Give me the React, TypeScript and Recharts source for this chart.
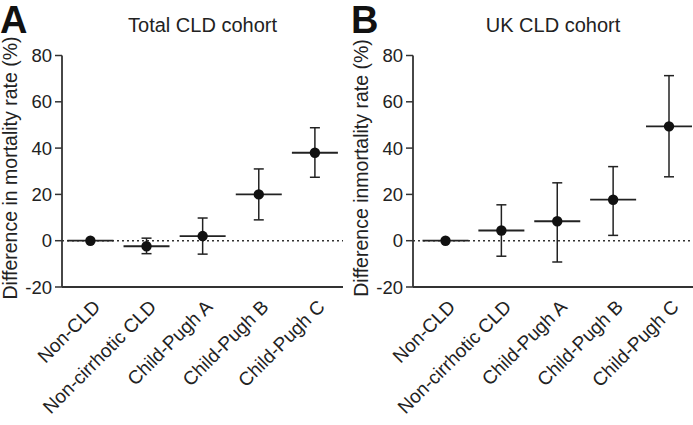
import React from 'react';
import { ComposedChart, Scatter, XAxis, YAxis, ErrorBar, ReferenceLine } from 'recharts';

const categories = ['Non-CLD', 'Non-cirrhotic CLD', 'Child-Pugh A', 'Child-Pugh B', 'Child-Pugh C'];
const totalMean = [0, -2.4, 2, 20, 38];
const totalLower = [0, -5.6, -5.8, 9, 27.4];
const totalUpper = [0, 1.1, 9.8, 31, 48.8];
const ukMean = [0, 4.4, 8.4, 17.7, 49.4];
const ukLower = [0, -6.7, -9.2, 2.3, 27.6];
const ukUpper = [0, 15.5, 25, 32, 71.3];
const yTicks = [-20, 0, 20, 40, 60, 80];

const FONT = '"Liberation Sans", Arial, Helvetica, sans-serif';
const INK = '#222';

function build(mean: number[], lower: number[], upper: number[]) {
  return categories.map((name, i) => ({
    name,
    value: mean[i],
    err: lower[i] === mean[i] && upper[i] === mean[i] ? null : [mean[i] - lower[i], upper[i] - mean[i]],
  }));
}

const totalData = build(totalMean, totalLower, totalUpper);
const ukData = build(ukMean, ukLower, ukUpper);

const Marker = (props: any) => {
  const { cx, cy } = props;
  if (cx == null || cy == null) return null;
  return (
    <g>
      <line x1={cx - 23} x2={cx + 23} y1={cy} y2={cy} stroke={INK} strokeWidth={1.8} />
      <circle cx={cx} cy={cy} r={5.2} fill="#111" />
    </g>
  );
};

const XTick = (props: any) => {
  const { x, y, payload } = props;
  const ax = x + 11;
  const ay = y + 13;
  return (
    <text
      x={ax}
      y={ay}
      textAnchor="end"
      transform={`rotate(-45, ${ax}, ${ay})`}
      fontSize={19}
      fill={INK}
      fontFamily={FONT}
    >
      {payload.value}
    </text>
  );
};

function Panel({ data, width, marginRight, padLeft, padRight }: { data: any[]; width: number; marginRight: number; padLeft: number; padRight: number }) {
  return (
    <ComposedChart
      width={width}
      height={425}
      data={data}
      margin={{ top: 55.5, right: marginRight, bottom: 8, left: 0 }}
      style={{ fontFamily: FONT }}
    >
      <XAxis
        dataKey="name"
        type="category"
        interval={0}
        tickLine={false}
        axisLine={{ stroke: '#333', strokeWidth: 1.8 }}
        height={130}
        tick={<XTick />}
        padding={{ left: padLeft, right: padRight }}
      />
      <YAxis
        type="number"
        domain={[-20, 80]}
        ticks={yTicks}
        allowDataOverflow
        width={62}
        tickSize={7}
        tickMargin={3}
        axisLine={{ stroke: '#333', strokeWidth: 1.8 }}
        tickLine={{ stroke: '#333', strokeWidth: 1.5 }}
        tick={{ fontSize: 18.5, fill: INK, fontFamily: FONT }}
      />
      <ReferenceLine y={0} stroke="#333" strokeWidth={1.6} strokeDasharray="2 3" />
      <Scatter dataKey="value" isAnimationActive={false} shape={Marker}>
        <ErrorBar dataKey="err" direction="y" width={5} stroke={INK} strokeWidth={1.5} isAnimationActive={false} />
      </Scatter>
    </ComposedChart>
  );
}

export default function App() {
  return (
    <div
      style={{
        position: 'absolute',
        left: 0,
        top: 0,
        width: 693,
        height: 425,
        overflow: 'hidden',
        background: '#fff',
        fontFamily: FONT,
      }}
    >
      <div style={{ position: 'absolute', left: 0, top: 0 }}>
        <Panel data={totalData} width={351} marginRight={8} padLeft={28.4} padRight={28.1} />
      </div>
      <div style={{ position: 'absolute', left: 351, top: 0 }}>
        <Panel data={ukData} width={342} marginRight={0} padLeft={32.5} padRight={24} />
      </div>
      <svg
        width={693}
        height={425}
        style={{ position: 'absolute', left: 0, top: 0, pointerEvents: 'none' }}
        fontFamily={FONT}
      >
        <text x={0} y={33} fontSize={38} fontWeight="bold" fill="#111">A</text>
        <text x={351} y={33} fontSize={38} fontWeight="bold" fill="#111">B</text>
        <text x={202.5} y={32} fontSize={20} textAnchor="middle" fill={INK}>Total CLD cohort</text>
        <text x={553} y={32} fontSize={20} textAnchor="middle" fill={INK}>UK CLD cohort</text>
        <text x={16.5} y={168} fontSize={19.5} textAnchor="middle" fill={INK} transform="rotate(-90, 16.5, 168)">
          Difference in mortality rate (%)
        </text>
        <text x={367.5} y={168} fontSize={19.5} textAnchor="middle" fill={INK} transform="rotate(-90, 367.5, 168)">
          Difference inmortality rate (%)
        </text>
      </svg>
    </div>
  );
}
